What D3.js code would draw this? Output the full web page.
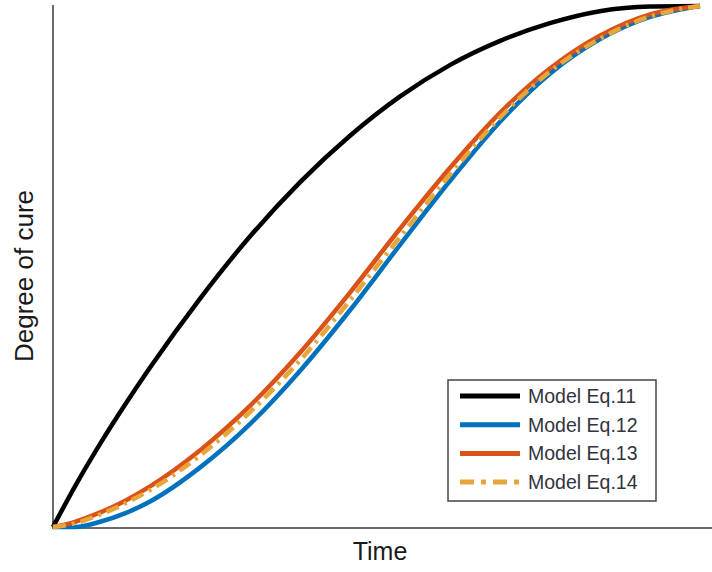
<!DOCTYPE html>
<html>
<head>
<meta charset="utf-8">
<script src="https://cdn.jsdelivr.net/npm/d3@7"></script>
<style>
  html, body { margin: 0; padding: 0; background: #fff; }
  svg { display: block; }
</style>
</head>
<body>
<svg id="chart" width="712" height="572"></svg>
<script>
// Normalised time (0 = start of cure, 1 = end)
const time = [0, 0.034, 0.073, 0.111, 0.150, 0.227, 0.304, 0.382, 0.459, 0.536, 0.614, 0.691, 0.768, 0.845, 0.923, 1.0];

// Degree of cure predicted by each model
const eq11 = [0, 0.078, 0.160, 0.234, 0.306, 0.438, 0.557, 0.662, 0.751, 0.826, 0.887, 0.933, 0.967, 0.990, 0.999, 1.0];
const eq12 = [0, 0.000, 0.010, 0.026, 0.049, 0.114, 0.197, 0.300, 0.416, 0.541, 0.665, 0.778, 0.870, 0.936, 0.979, 1.0];
const eq13 = [0, 0.010, 0.028, 0.050, 0.078, 0.147, 0.232, 0.335, 0.450, 0.572, 0.690, 0.795, 0.880, 0.943, 0.984, 1.0];
const eq14 = [0, 0.007, 0.024, 0.045, 0.071, 0.137, 0.220, 0.320, 0.435, 0.556, 0.677, 0.786, 0.874, 0.937, 0.980, 1.0];

const seriesNames = ["Model Eq.11", "Model Eq.12", "Model Eq.13", "Model Eq.14"];
const seriesColors = ["#000000", "#0072BD", "#D95319", "#E8A53A"];
const seriesDash = [null, null, null, "13,6,3,6"];
const seriesValues = [eq11, eq12, eq13, eq14];

const svg = d3.select("#chart");

const x = d3.scaleLinear().domain([0, 1]).range([53, 700]);
const y = d3.scaleLinear().domain([0, 1]).range([527, 6]);

// Axis spines (no ticks)
svg.append("line")
  .attr("x1", 53).attr("x2", 53).attr("y1", 5).attr("y2", 528)
  .attr("stroke", "#6b6b6b").attr("stroke-width", 2);
svg.append("line")
  .attr("x1", 52).attr("x2", 712).attr("y1", 528).attr("y2", 528)
  .attr("stroke", "#6b6b6b").attr("stroke-width", 2);

const line = d3.line()
  .x(d => x(d[0]))
  .y(d => y(d[1]))
  .curve(d3.curveMonotoneX);

seriesValues.forEach((vals, i) => {
  const pts = time.map((t, k) => [t, vals[k]]);
  svg.append("path")
    .datum(pts)
    .attr("d", line)
    .attr("fill", "none")
    .attr("stroke", seriesColors[i])
    .attr("stroke-width", 4.5)
    .attr("stroke-linecap", "butt")
    .attr("stroke-linejoin", "round")
    .attr("stroke-dasharray", seriesDash[i]);
});

// Axis titles
svg.append("text")
  .attr("x", 380).attr("y", 560)
  .attr("text-anchor", "middle")
  .attr("font-family", "Liberation Sans, Arial, sans-serif")
  .attr("font-size", 25)
  .attr("fill", "#1a1a1a")
  .text("Time");

svg.append("text")
  .attr("transform", "translate(33,276) rotate(-90)")
  .attr("text-anchor", "middle")
  .attr("font-family", "Liberation Sans, Arial, sans-serif")
  .attr("font-size", 26)
  .attr("fill", "#1a1a1a")
  .text("Degree of cure");

// Legend
const legend = svg.append("g");
legend.append("rect")
  .attr("x", 448).attr("y", 380).attr("width", 208).attr("height", 121)
  .attr("fill", "#fff").attr("stroke", "#444").attr("stroke-width", 1.5);

seriesNames.forEach((name, i) => {
  const yy = 396 + i * 28.7;
  legend.append("line")
    .attr("x1", 460).attr("x2", 520).attr("y1", yy).attr("y2", yy)
    .attr("stroke", seriesColors[i]).attr("stroke-width", 5)
    .attr("stroke-dasharray", seriesDash[i] ? "14,7,5,7" : null);
  legend.append("text")
    .attr("x", 528).attr("y", yy + 7)
    .attr("font-family", "Liberation Sans, Arial, sans-serif")
    .attr("font-size", 19.5)
    .attr("fill", "#333340")
    .text(name);
});
</script>
</body>
</html>
